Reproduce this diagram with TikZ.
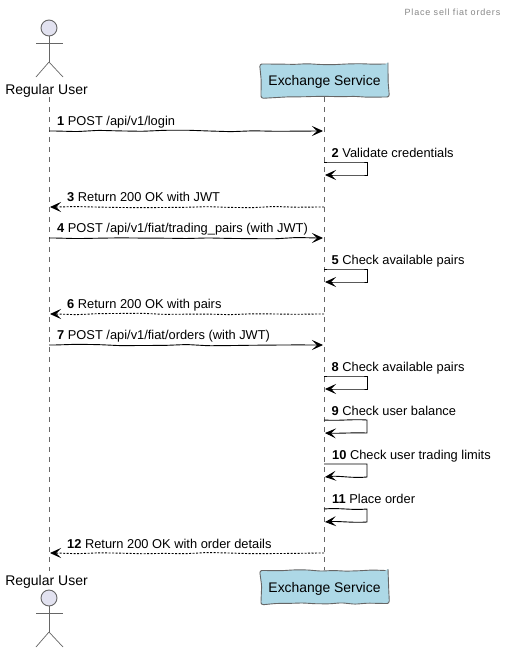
\documentclass[tikz,border=0pt]{standalone}
\usepackage{fontspec}
\setmainfont{Liberation Sans}
\usetikzlibrary{arrows.meta,decorations.pathmorphing,positioning}
\pgfmathsetseed{7}
\definecolor{lifegrey}{HTML}{666666}
\definecolor{boxblue}{HTML}{ADD8E6}
\definecolor{actorfill}{HTML}{E2E2F0}
\definecolor{titlegrey}{HTML}{888888}
\tikzset{
  x=1pt,y=-1pt,
  wob/.style={decorate,decoration={random steps,segment length=22pt,amplitude=0.8pt,post length=6pt,pre length=6pt},rounded corners=3pt},
  msg/.style={draw=black,line width=0.9pt,wob,-{Stealth[length=11pt,width=10pt,inset=5pt]}},
  ret/.style={msg,dash pattern=on 2pt off 1.5pt},
  selfmsg/.style={draw=black,line width=0.9pt,-{Stealth[length=11pt,width=10pt,inset=5pt]}},
  life/.style={draw=lifegrey,line width=0.6pt,dash pattern=on 5pt off 5pt},
  part/.style={draw=lifegrey,fill=boxblue,line width=0.9pt,minimum width=127pt,minimum height=33pt,inner sep=0pt,text=black,text depth=0pt,
    font=\fontsize{13.9}{16}\selectfont,rounded corners=2.5pt,decorate,decoration={random steps,segment length=13pt,amplitude=0.7pt}},
  lab/.style={anchor=base west,inner sep=0pt,font=\fontsize{12.85}{15}\selectfont,text=black},
  actlab/.style={inner sep=0pt,font=\fontsize{14}{16}\selectfont,anchor=base,text=black},
  limb/.style={draw=lifegrey,line width=0.7pt},
  head/.style={draw=lifegrey,fill=actorfill,line width=0.9pt,circle,minimum size=16pt,inner sep=0pt},
  ttl/.style={anchor=base east,inner sep=0pt,font=\fontsize{9}{10}\selectfont,text=titlegrey},
}
\begin{document}
\begin{tikzpicture}
\useasboundingbox (0,0) rectangle (506,653);
\fill[white] (0,0) rectangle (506,653);
% lifelines
\coordinate (ut) at (49,97); \coordinate (ub) at (49,571);
\coordinate (st) at (324,97); \coordinate (sb) at (324,570);
\draw[life] (ut) -- (ub);
\draw[life] (st) -- (sb);
\node[ttl] (title) at (500.5,16) {\addfontfeature{LetterSpace=9}Place sell fiat orders};
% participants
\node[part] (s1) at (324.5,80.5) {Exchange Service};
\node[part] (s2) at (324.5,587) {Exchange Service};
\node[actlab] (a1) at (46.5,94) {Regular User};
\node[actlab] (a2) at (46.5,585) {Regular User};
% top actor
\node[head] (h1) at (49,28) {};
\coordinate (b1) at (49,62); \coordinate (al1) at (36,43); \coordinate (ar1) at (63,43);
\coordinate (ll1) at (36,77); \coordinate (lr1) at (63,77);
\draw[limb] (h1) -- (b1); \draw[limb] (al1) -- (ar1); \draw[limb] (b1) -- (ll1); \draw[limb] (b1) -- (lr1);
% bottom actor
\node[head] (h2) at (49,598) {};
\coordinate (b2) at (49,632); \coordinate (al2) at (36,613); \coordinate (ar2) at (63,613);
\coordinate (ll2) at (36,647); \coordinate (lr2) at (63,647);
\draw[limb] (h2) -- (b2); \draw[limb] (al2) -- (ar2); \draw[limb] (b2) -- (ll2); \draw[limb] (b2) -- (lr2);
% forward/return messages
\foreach \nm/\y in {m1/131,m4/238,m7/345}{
  \coordinate (\nm l) at (49,\y); \coordinate (\nm r) at (323,\y);
  \draw[msg] (\nm l) -- (\nm r);
}
\foreach \nm/\y in {m3/207,m6/314,m12/553}{
  \coordinate (\nm l) at (50,\y); \coordinate (\nm r) at (324,\y);
  \draw[ret] (\nm r) -- (\nm l);
}
% self messages
\foreach \nm/\y/\w/\v in {m2/162/0/0,m5/269/0/0,m8/376/0/0,m9/420/1/-0.5,m10/464/0/1.5,m11/509/-1.5/1}{
  \coordinate (\nm a) at (324,\y); \coordinate (\nm b) at (367,\y);
  \coordinate (\nm c) at (367,\y+13); \coordinate (\nm d) at (325,\y+13);
  \draw[selfmsg] (\nm a) .. controls +(15,\w) and +(-15,-\w) .. (\nm b) -- (\nm c) .. controls +(-14,\v) and +(14,-\v) .. (\nm d);
}
% labels
\node[lab] (l1) at (57,125.5) {\textbf{1} POST /api/v1/login};
\node[lab] (l2) at (331.5,157.5) {\textbf{2} Validate credentials};
\node[lab] (l3) at (67,201.5) {\textbf{3} Return 200 OK with JWT};
\node[lab] (l4) at (57,232.5) {\textbf{4} POST /api/v1/fiat/trading\_pairs (with JWT)};
\node[lab] (l5) at (331.5,264.5) {\textbf{5} Check available pairs};
\node[lab] (l6) at (67,308.5) {\textbf{6} Return 200 OK with pairs};
\node[lab] (l7) at (57,339.5) {\textbf{7} POST /api/v1/fiat/orders (with JWT)};
\node[lab] (l8) at (331.5,371.5) {\textbf{8} Check available pairs};
\node[lab] (l9) at (331.5,415.5) {\textbf{9} Check user balance};
\node[lab] (l10) at (332,459.5) {\textbf{10} Check user trading limits};
\node[lab] (l11) at (332,503.5) {\textbf{11} Place order};
\node[lab] (l12) at (67,548.5) {\textbf{12} Return 200 OK with order details};
\end{tikzpicture}
\end{document}
